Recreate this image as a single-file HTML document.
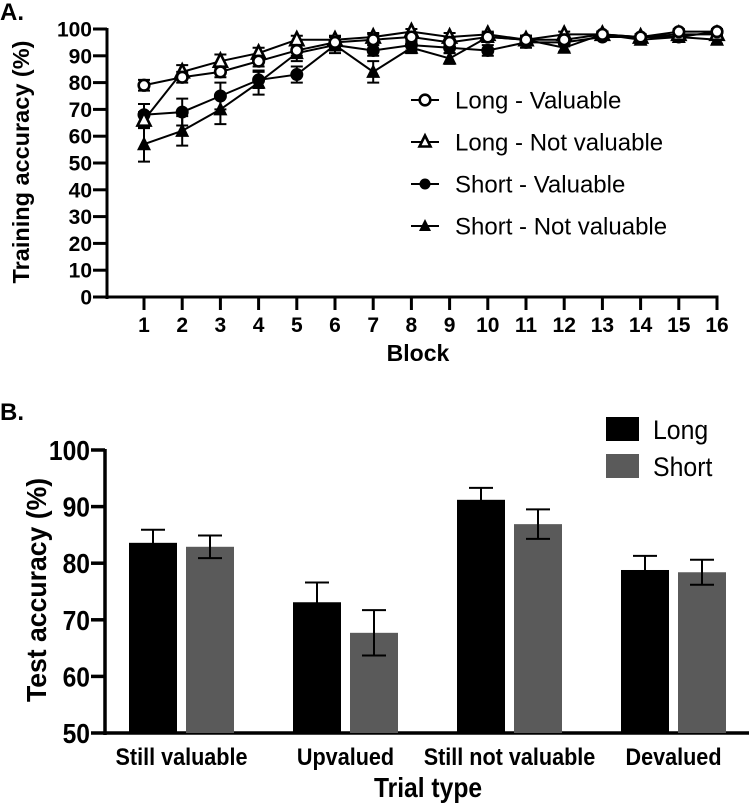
<!DOCTYPE html>
<html><head><meta charset="utf-8"><style>
body{margin:0;background:#fff;}
svg{display:block;font-family:"Liberation Sans",Arial,sans-serif;}
</style></head><body>
<svg id="fig" width="749" height="804" viewBox="0 0 749 804">
<text x="0" y="20" font-size="24" font-weight="bold">A.</text>
<text x="0" y="420" font-size="24" font-weight="bold">B.</text>
<g id="chartA"></g>
<g id="chartB"></g>
</svg>
<script>
// ---- Chart A data ----
const blocks = [1,2,3,4,5,6,7,8,9,10,11,12,13,14,15,16];
const yTicksA = [0,10,20,30,40,50,60,70,80,90,100];
const longValuable = [79,82,84,88,92,95,96,97,95,97,96,96,98,97,99,99];
const longValuableErr = [2,2,2,2,2,2,2,1.5,2,1.5,1.5,1.5,1,1,1,1];
const longNotValuable = [66,84,88,91,96,96,97,99,97,98,96,98,98,97,98,98];
const longNotValuableErr = [3,2.5,2.5,2,1.5,1.5,1.5,1,1.5,1,1.5,1,1,1,1,1];
const shortValuable = [68,69,75,81,83,94,92,94,93,92,95,95,97,97,97,99];
const shortValuableErr = [4,5,5,3,3,2,2,2,2,2,2,1.5,1,1,1,1];
const shortNotValuable = [57,62,70,80,91,94,84,93,89,97,96,93,98,96,97,96];
const shortNotValuableErr = [6.5,5.5,5.5,4.5,3,3,4,2,2,1.5,1.5,1.5,1,1.5,1.5,1.5];
const seriesNamesA = ["Long - Valuable","Long - Not valuable","Short - Valuable","Short - Not valuable"];

// ---- Chart B data ----
const trialTypes = ["Still valuable","Upvalued","Still not valuable","Devalued"];
const longAcc = [83.6,73.1,91.2,78.8];
const longErr = [2.3,3.5,2.1,2.5];
const shortAcc = [82.9,67.7,86.9,78.4];
const shortErr = [2.0,4.0,2.6,2.2];
const yTicksB = [50,60,70,80,90,100];

const NS="http://www.w3.org/2000/svg";
function mk(parent,tag,attrs,text){const e=document.createElementNS(NS,tag);for(const k in attrs)e.setAttribute(k,attrs[k]);if(text!==undefined)e.textContent=text;parent.appendChild(e);return e;}

// ---- Chart A ----
const A=document.getElementById('chartA');
const ax0=107, ay0=297, ay100=29, bx1=144, bx16=717;
const xA=b=>bx1+(b-1)*(bx16-bx1)/15;
const yA=v=>ay0-(v/100)*(ay0-ay100);
let e;
e=mk(A,'line',{x1:ax0,y1:ay100-1,x2:ax0,y2:ay0+2,stroke:'#000','stroke-width':3});


e=mk(A,'line',{x1:ax0-1,y1:ay0,x2:bx16+1.5,y2:ay0,stroke:'#000','stroke-width':3});


yTicksA.forEach(t=>{
  const l=mk(A,'line',{x1:ax0-14,y1:yA(t),x2:ax0,y2:yA(t),stroke:'#000','stroke-width':3});
  
  
  const tx=mk(A,'text',{x:ax0-15,y:yA(t)+7.5,'text-anchor':'end','font-size':21,'font-weight':'bold'},t);
  
  
});
blocks.forEach(b=>{
  const l=mk(A,'line',{x1:xA(b),y1:ay0,x2:xA(b),y2:ay0+13,stroke:'#000','stroke-width':3});
  
  
  const tx=mk(A,'text',{x:xA(b),y:ay0+35,'text-anchor':'middle','font-size':21,'font-weight':'bold'},b);
  
  
});
e=mk(A,'text',{x:418,y:361,'text-anchor':'middle','font-size':23,'font-weight':'bold'},'Block');


e=mk(A,'text',{x:0,y:0,transform:'translate(29,162) rotate(-90)','text-anchor':'middle','font-size':23.5,'font-weight':'bold'},'Training accuracy (%)');



function marker(g,type,x,y,s){
  const r=s||6.5;
  if(type===0) return mk(g,'circle',{cx:x,cy:y,r:r-1.2,fill:'#fff',stroke:'#000','stroke-width':2.6});
  if(type===1) return mk(g,'polygon',{points:`${x},${y-r-1} ${x-r},${y+r-1} ${x+r},${y+r-1}`,fill:'#fff',stroke:'#000','stroke-width':2.6});
  if(type===2) return mk(g,'circle',{cx:x,cy:y,r:r,fill:'#000'});
  return mk(g,'polygon',{points:`${x},${y-r-1.5} ${x-r-0.5},${y+r-0.5} ${x+r+0.5},${y+r-0.5}`,fill:'#000'});
}
const seriesA=[[longValuable,longValuableErr],[longNotValuable,longNotValuableErr],[shortValuable,shortValuableErr],[shortNotValuable,shortNotValuableErr]];
const drawOrder=[3,2,1,0];
drawOrder.forEach(si=>{
  const [vals,errs]=seriesA[si];
  const g=mk(A,'g',{});
  
  
  const pl=mk(g,'polyline',{points:vals.map((v,i)=>xA(blocks[i])+','+yA(v)).join(' '),fill:'none',stroke:'#000','stroke-width':2});
  
  
  vals.forEach((v,i)=>{
    const x=xA(blocks[i]),y1=yA(Math.min(100,v+errs[i])),y2=yA(v-errs[i]);
    const eb=mk(g,'path',{d:`M${x},${y1}V${y2}M${x-6},${y1}H${x+6}M${x-6},${y2}H${x+6}`,stroke:'#000','stroke-width':2,fill:'none'});
    
    
    const m=marker(g,si,x,yA(v));
    
    
  });
});
// legend A
const legYs=[100,142,184,226];
seriesNamesA.forEach((n,i)=>{
  const g=mk(A,'g',{});
  
  
  mk(g,'line',{x1:411,y1:legYs[i],x2:439,y2:legYs[i],stroke:'#000','stroke-width':2});
  marker(g,i,425,legYs[i],i===0?6.5:5.5);
  mk(g,'text',{x:455,y:legYs[i]+8.5,'font-size':24},n);
});

// ---- Chart B ----
const B=document.getElementById('chartB');
const bx0=105, by50=733, by100=450;
const yB=v=>by50-(v-50)/50*(by50-by100);
const groupX0=129, groupStep=164, barW=48, barGap=9;
e=mk(B,'line',{x1:bx0,y1:by100-1,x2:bx0,y2:by50+2,stroke:'#000','stroke-width':3.5});


e=mk(B,'line',{x1:bx0-1,y1:by50,x2:749,y2:by50,stroke:'#000','stroke-width':3.5});


yTicksB.forEach(t=>{
  const l=mk(B,'line',{x1:bx0-14,y1:yB(t),x2:bx0,y2:yB(t),stroke:'#000','stroke-width':3.5});
  
  
  const tx=mk(B,'text',{x:0,y:0,'text-anchor':'end','font-size':28,'font-weight':'bold',transform:`translate(${bx0-15},${yB(t)+10}) scale(0.88,1)`},t);
  
  
});
trialTypes.forEach((tt,i)=>{
  const gx=groupX0+i*groupStep;
  [[longAcc,longErr,'#000','long'],[shortAcc,shortErr,'#5a5a5a','short']].forEach(([vals,errs,col,nm],k)=>{
    const x=gx+k*(barW+barGap);
    const r=mk(B,'rect',{x:x,y:yB(vals[i]),width:barW,height:by50-yB(vals[i]),fill:col});
    
    
    const cx=x+barW/2,yt=yB(vals[i]+errs[i]),yb=yB(vals[i]-errs[i]);
    const eb=mk(B,'path',{d:`M${cx},${yt}V${yb}M${cx-12},${yt}H${cx+12}M${cx-12},${yb}H${cx+12}`,stroke:'#000','stroke-width':2,fill:'none'});
    
    
  });
  const lx=gx+barW+barGap/2;
  const tx=mk(B,'text',{x:0,y:0,'text-anchor':'middle','font-size':24,'font-weight':'bold',transform:`translate(${lx},${by50+32}) scale(0.9,1)`},tt);
  
  
});
e=mk(B,'text',{x:0,y:0,'text-anchor':'middle','font-size':28,'font-weight':'bold',transform:'translate(428,797) scale(0.88,1)'},'Trial type');


e=mk(B,'text',{x:0,y:0,transform:'translate(46,590) rotate(-90) scale(0.95,1)','text-anchor':'middle','font-size':28,'font-weight':'bold'},'Test accuracy (%)');


// legend B
[['Long','#000',417],['Short','#5a5a5a',454]].forEach(([n,c,y])=>{
  const g=mk(B,'g',{});
  
  
  mk(g,'rect',{x:606,y:y,width:33,height:24,fill:c});
  mk(g,'text',{x:0,y:0,'font-size':27,transform:`translate(653,${y+22}) scale(0.92,1)`},n);
});
</script>
</body></html>
